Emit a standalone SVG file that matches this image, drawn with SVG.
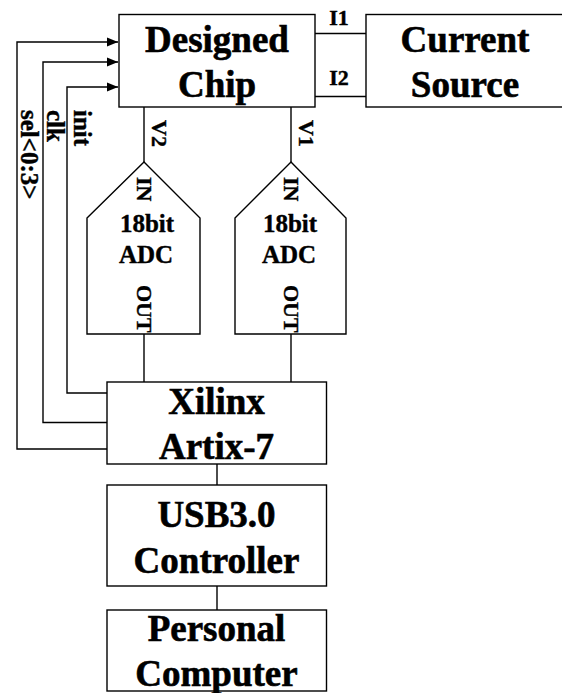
<svg xmlns="http://www.w3.org/2000/svg" width="562" height="693" viewBox="0 0 562 693">
<style>
.box{fill:#fff;stroke:#000;stroke-width:1.4}
.ln{fill:none;stroke:#000;stroke-width:1.4}
text{font-family:"Liberation Serif","Times New Roman",serif;font-weight:bold;fill:#000;stroke:#000;stroke-width:0.4}
.big{font-size:37px;text-anchor:middle;stroke-width:0.6}
.mid{font-size:25px;text-anchor:middle}
.sm{font-size:22px;text-anchor:middle}
.rot{font-size:25px}
.pin{font-size:22px}
</style>
<defs>
<marker id="arr" markerWidth="12" markerHeight="10" refX="11" refY="5" orient="auto" markerUnits="userSpaceOnUse">
<path d="M0,0.5 L11,5 L0,9.5 Z" fill="#000"/>
</marker>
</defs>
<rect width="562" height="693" fill="#fff"/>
<g id="connectors">
<line class="ln" x1="315" y1="33.5" x2="366" y2="33.5"/>
<line class="ln" x1="315" y1="96.5" x2="366" y2="96.5"/>
<text class="sm" x="339" y="25">I1</text>
<text class="sm" x="339" y="85">I2</text>
<line class="ln" x1="144" y1="107" x2="144" y2="162"/>
<line class="ln" x1="291" y1="107" x2="291" y2="162"/>
<text class="pin" transform="translate(152,120) rotate(90)" font-size="23">V2</text>
<text class="pin" transform="translate(299,120) rotate(90)" font-size="23">V1</text>
<line class="ln" x1="144" y1="334" x2="144" y2="382"/>
<line class="ln" x1="291" y1="334" x2="291" y2="382"/>
<polyline class="ln" points="107,449 17,449 17,42 118,42" marker-end="url(#arr)"/>
<polyline class="ln" points="107,422.5 43,422.5 43,62 118,62" marker-end="url(#arr)"/>
<polyline class="ln" points="107,393 67,393 67,87 118,87" marker-end="url(#arr)"/>
<text class="rot" transform="translate(20.5,110) rotate(90)">sel&lt;0:3&gt;</text>
<text class="rot" transform="translate(47,110) rotate(90)">clk</text>
<text class="rot" transform="translate(73.5,110) rotate(90)">init</text>
<line class="ln" x1="217" y1="464" x2="217" y2="485"/>
<line class="ln" x1="217" y1="586" x2="217" y2="610"/>
</g>
<g id="designed-chip">
<rect class="box" x="119" y="14.5" width="196" height="92.5"/>
<text class="big" x="217" y="52">Designed</text>
<text class="big" x="217" y="96.5">Chip</text>
</g>
<g id="current-source">
<rect class="box" x="366" y="14.5" width="205" height="92.5"/>
<text class="big" x="465" y="52">Current</text>
<text class="big" x="465" y="96.5">Source</text>
</g>
<g id="adc2">
<polygon class="box" points="87,218 144,162 200,218 200,334 87,334"/>
<text class="pin" transform="translate(137,177) rotate(90)">IN</text>
<text class="mid" x="147" y="232">18bit</text>
<text class="mid" x="146" y="263">ADC</text>
<text class="pin" transform="translate(137,285) rotate(90)">OUT</text>
</g>
<g id="adc1">
<polygon class="box" points="235,218 291,162 346,218 346,334 235,334"/>
<text class="pin" transform="translate(284,177) rotate(90)">IN</text>
<text class="mid" x="290" y="232">18bit</text>
<text class="mid" x="289" y="263">ADC</text>
<text class="pin" transform="translate(284,285) rotate(90)">OUT</text>
</g>
<g id="xilinx">
<rect class="box" x="107" y="382" width="219.5" height="82"/>
<text class="big" x="216.5" y="413.5">Xilinx</text>
<text class="big" x="216.5" y="458.5">Artix-7</text>
</g>
<g id="usb">
<rect class="box" x="107" y="485" width="219.5" height="101"/>
<text class="big" x="216.5" y="527">USB3.0</text>
<text class="big" x="216.5" y="572.5">Controller</text>
</g>
<g id="pc">
<rect class="box" x="107" y="610" width="219.5" height="81"/>
<text class="big" x="216.5" y="641">Personal</text>
<text class="big" x="216.5" y="686">Computer</text>
</g>
</svg>
